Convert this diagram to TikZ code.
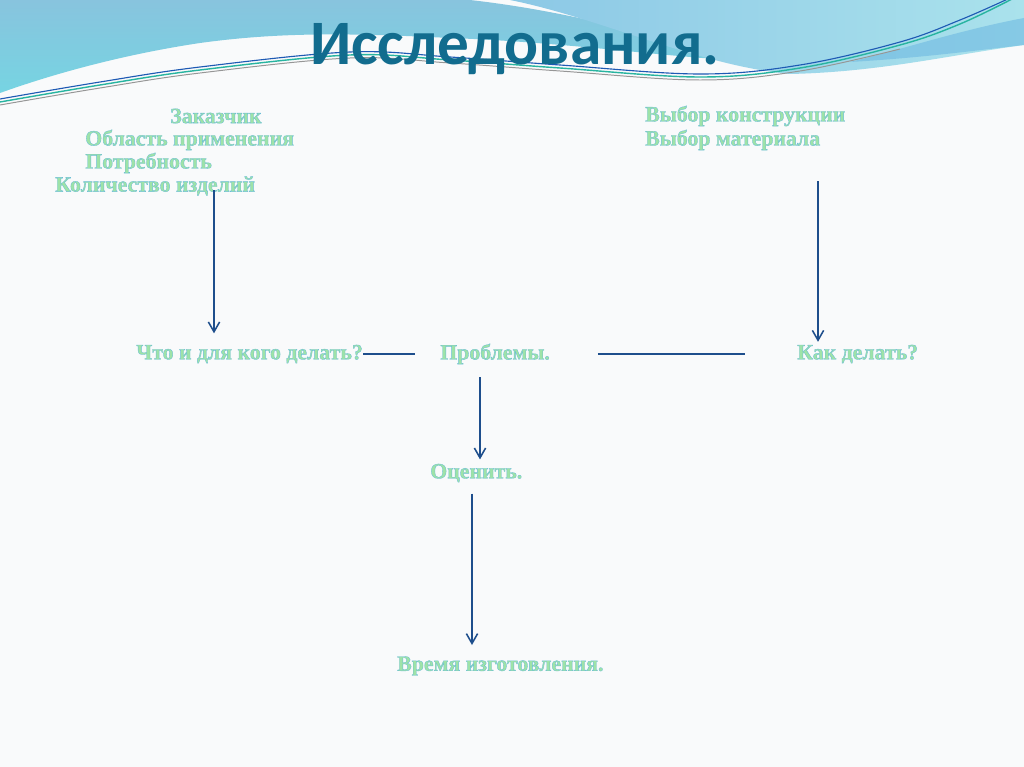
\documentclass[tikz,border=0pt]{standalone}
\usepackage{fontspec}
\setmainfont{Liberation Serif}
\newfontfamily\titlefont{Carlito}
\newfontfamily\fxfont[FakeBold=1.6]{Liberation Serif Bold}
\usetikzlibrary{arrows.meta}
\definecolor{pagebg}{RGB}{249,250,251}
\definecolor{blueA1}{RGB}{136,196,222}
\definecolor{blueA2}{RGB}{118,212,226}
\definecolor{cyanC1}{RGB}{170,226,236}
\definecolor{cyanC2}{RGB}{140,200,230}
\definecolor{bandC}{RGB}{110,185,225}
\definecolor{titlec}{RGB}{18,108,142}
\definecolor{arrc}{RGB}{30,78,140}
\definecolor{lnteal}{RGB}{40,180,160}
\definecolor{lnblue}{RGB}{30,90,180}
\definecolor{lngray}{RGB}{150,150,150}
\newcommand\fxt[1]{\special{pdf:bcolor [0.62 0.89 0.66] [0.42 0.74 0.84]}#1\special{pdf:ecolor}}
\tikzset{
  lbl/.style={inner sep=0pt, font=\fxfont\fontsize{15.5}{17}\selectfont},
  arr/.style={draw=arrc, line width=1.3pt, -{Straight Barb[length=7pt,width=8pt,line width=1.1pt]}},
  conn/.style={draw=arrc, line width=1.3pt},
}
\begin{document}
\begin{tikzpicture}[x=0.025cm, y=-0.025cm]
\useasboundingbox (0,0) rectangle (1024,767);
\fill[pagebg] (0,0) rectangle (1024,767);
% background waves
\shade[top color=blueA1, bottom color=blueA2]
  (0,0) -- (470,0) .. controls (560,10) and (660,35) .. (730,60)
  .. controls (650,55) and (560,42) .. (450,38)
  .. controls (350,33) and (280,32) .. (200,43)
  .. controls (120,55) and (50,75) .. (0,93) -- cycle;
\shade[left color=cyanC2, right color=cyanC1]
  (510,0) -- (1024,0) -- (1024,45) .. controls (950,55) and (880,72) .. (790,74)
  .. controls (700,66) and (600,18) .. (510,0) -- cycle;
\fill[bandC, opacity=0.6] (1024,18) .. controls (960,30) and (900,50) .. (850,62)
  .. controls (920,58) and (980,50) .. (1024,45) -- cycle;
\draw[lnblue, line width=0.8pt] plot[smooth, tension=0.6] coordinates {(0,99) (100,82) (200,67) (350,52) (450,57) (560,65) (700,74) (800,65) (900,42) (960,20) (1010,-2)};
\draw[lnteal, line width=1pt] plot[smooth, tension=0.6] coordinates {(0,102) (100,85) (200,70) (350,55) (450,60) (560,68) (700,77) (800,68) (900,45) (960,24) (1014,-2)};
\draw[lngray, line width=0.7pt] plot[smooth, tension=0.6] coordinates {(0,105) (100,88) (200,73) (350,58) (450,63) (560,71) (700,80) (800,71) (900,49)};
% title
\node[inner sep=0pt, anchor=base, text=titlec, font=\titlefont\fontsize{45}{50}\selectfont\bfseries] (title) at (515,65) {Исследования.};
% labels
\node[lbl, anchor=west] (zak) at (170,116) {\fxt{Заказчик}};
\node[lbl, anchor=west] (obl) at (85,140) {\fxt{Область применения}};
\node[lbl, anchor=west] (potr) at (85,163) {\fxt{Потребность}};
\node[lbl, anchor=west] (kol) at (55,186) {\fxt{Количество изделий}};
\node[lbl, anchor=west] (vk) at (645,116) {\fxt{Выбор конструкции}};
\node[lbl, anchor=west] (vm) at (645,140) {\fxt{Выбор материала}};
\node[lbl, anchor=west] (chto) at (136,354) {\fxt{Что и для кого делать?}};
\node[lbl, anchor=west] (probl) at (440,354) {\fxt{Проблемы.}};
\node[lbl, anchor=west] (kak) at (797,354) {\fxt{Как делать?}};
\node[lbl, anchor=west] (ocen) at (430,473) {\fxt{Оценить.}};
\node[lbl, anchor=west] (vrem) at (397,666) {\fxt{Время изготовления.}};
% connector x positions
\coordinate (c1) at (214,0);
\coordinate (c2) at (818,0);
\coordinate (c3) at (480,0);
\coordinate (c4) at (472,0);
% connectors
\draw[arr, shorten <=-4pt, shorten >=8pt] (kol.south -| c1) -- (chto.north -| c1);
\draw[arr, shorten <=22pt, shorten >=2pt] (vm.south -| c2) -- (kak.north -| c2);
\draw[conn, shorten <=0pt, shorten >=18pt] (chto.east) -- (probl.west);
\draw[conn, shorten <=34pt, shorten >=37pt] (probl.east) -- (kak.west);
\draw[arr, shorten <=9pt, shorten >=3pt] (probl.south -| c3) -- (ocen.north -| c3);
\draw[arr, shorten <=8pt, shorten >=8pt] (ocen.south -| c4) -- (vrem.north -| c4);
\end{tikzpicture}
\end{document}
